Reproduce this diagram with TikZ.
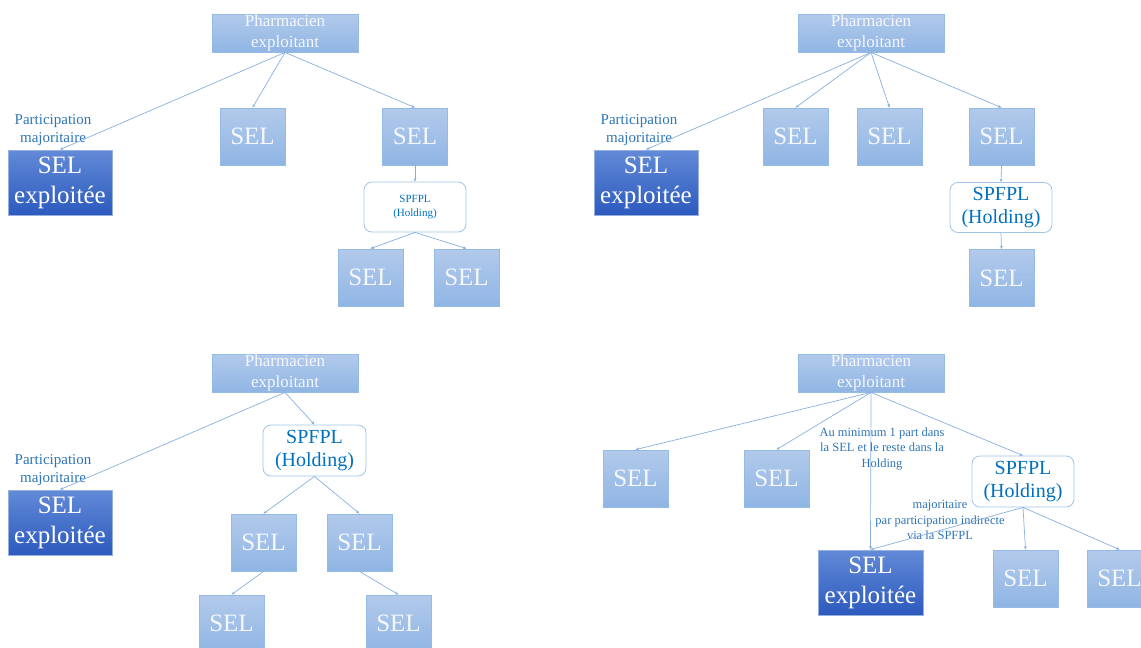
\documentclass[tikz,border=0pt]{standalone}
\usepackage{fontspec}
\setmainfont{Liberation Serif}
\usetikzlibrary{arrows.meta}
\definecolor{seltop}{RGB}{178,202,235}
\definecolor{selbot}{RGB}{144,181,228}
\definecolor{selline}{RGB}{150,186,230}
\definecolor{exptop}{RGB}{98,138,215}
\definecolor{expbot}{RGB}{44,90,190}
\definecolor{expline}{RGB}{150,175,225}
\definecolor{linkcol}{RGB}{135,175,224}
\definecolor{notecol}{RGB}{46,117,182}
\definecolor{holdtext}{RGB}{0,112,192}
\definecolor{holdline}{RGB}{160,196,232}
\definecolor{boxtext}{RGB}{244,247,252}
\tikzset{
  x=1pt, y=-1pt,
  selbox/.style={draw=selline, line width=0.8pt, top color=seltop, bottom color=selbot,
    minimum width=65pt, minimum height=57pt, inner sep=0pt, text=boxtext,
    font=\fontsize{25}{30}\selectfont},
  ownerbox/.style={selbox, minimum width=146pt, minimum height=38pt,
    align=center, font=\fontsize{17}{21}\selectfont},
  expbox/.style={draw=expline, line width=0.8pt, top color=exptop, bottom color=expbot,
    minimum width=104pt, minimum height=65pt, inner sep=0pt, text=white, align=center,
    font=\fontsize{25}{30}\selectfont},
  holdbox/.style={draw=holdline, line width=0.8pt, fill=white, rounded corners=8pt,
    minimum width=102pt, minimum height=50pt, inner sep=0pt, text=holdtext, align=center,
    font=\fontsize{20}{23}\selectfont},
  holdsmall/.style={holdbox, font=\fontsize{11}{14}\selectfont},
  note/.style={text=notecol, align=center, inner sep=0pt, font=\fontsize{15}{18}\selectfont},
  smallnote/.style={note, font=\fontsize{12.5}{15.5}\selectfont},
  link/.style={draw=linkcol, line width=0.7pt, -{Stealth[length=3.5pt,width=3pt]}}
}
\begin{document}
\begin{tikzpicture}
\useasboundingbox (0,0) rectangle (1141,648);

% ---- top left: one SPFPL holding two SEL
\node[ownerbox] (p1) at (285,33) {Pharmacien\\exploitant};
\node[expbox] (e1) at (60,182.5) {SEL\\exploitée};
\node[selbox] (s1a) at (252.5,136.5) {SEL};
\node[selbox] (s1b) at (415,136.5) {SEL};
\node[holdsmall] (h1) at (415,207) {SPFPL\\(Holding)};
\node[selbox] (s1c) at (370.5,277.5) {SEL};
\node[selbox] (s1d) at (466.5,277.5) {SEL};
\node[note] (n1) at (53,130.5) {Participation\\majoritaire};

% ---- top right
\node[ownerbox] (p2) at (871,33) {Pharmacien\\exploitant};
\node[expbox] (e2) at (646,182.5) {SEL\\exploitée};
\node[selbox] (s2a) at (795.5,136.5) {SEL};
\node[selbox] (s2b) at (889.5,136.5) {SEL};
\node[selbox] (s2c) at (1001.5,136.5) {SEL};
\node[holdbox] (h2) at (1001,207.5) {SPFPL\\(Holding)};
\node[selbox] (s2d) at (1001.5,278) {SEL};
\node[note] (n2) at (639,130.5) {Participation\\majoritaire};

% ---- bottom left
\node[ownerbox] (p3) at (285,373) {Pharmacien\\exploitant};
\node[expbox] (e3) at (60,522.5) {SEL\\exploitée};
\node[holdbox, minimum width=103pt, minimum height=51pt] (h3) at (314.5,450.5) {SPFPL\\(Holding)};
\node[selbox] (s3a) at (263.5,542.5) {SEL};
\node[selbox] (s3b) at (359.5,542.5) {SEL};
\node[selbox] (s3c) at (231.5,623.5) {SEL};
\node[selbox] (s3d) at (398.5,623.5) {SEL};
\node[note] (n3) at (53,470.5) {Participation\\majoritaire};

% ---- bottom right
\node[ownerbox] (p4) at (871,373) {Pharmacien\\exploitant};
\node[selbox] (s4a) at (635.5,478.5) {SEL};
\node[selbox] (s4b) at (776.5,478.5) {SEL};
\node[holdbox, minimum height=51pt] (h4) at (1023,481.5) {SPFPL\\(Holding)};
\node[expbox, minimum width=105pt] (e4) at (870.5,582.5) {SEL\\exploitée};
\node[selbox] (s4c) at (1025.5,578.5) {SEL};
\node[selbox] (s4d) at (1119.5,578.5) {SEL};
\node[smallnote] (n4a) at (882,449) {Au minimum 1 part dans\\la SEL et le reste dans la\\Holding};
\node[smallnote] (n4b) at (940,520) {majoritaire\\par participation indirecte\\via la SPFPL};

% ---- connectors
\draw[link] (p1.south) -- (e1.north);
\draw[link] (p1.south) -- (s1a.north);
\draw[link] (p1.south) -- (s1b.north);
\draw[link] (s1b.south) -- (h1.north);
\draw[link] (h1.south) -- (s1c.north);
\draw[link] (h1.south) -- (s1d.north);

\draw[link] (p2.south) -- (e2.north);
\draw[link] (p2.south) -- (s2a.north);
\draw[link] (p2.south) -- (s2b.north);
\draw[link] (p2.south) -- (s2c.north);
\draw[link] (s2c.south) -- (h2.north);
\draw[link] (h2.south) -- (s2d.north);

\draw[link] (p3.south) -- (e3.north);
\draw[link] (p3.south) -- (h3.north);
\draw[link] (h3.south) -- (s3a.north);
\draw[link] (h3.south) -- (s3b.north);
\draw[link] (s3a.south) -- (s3c.north);
\draw[link] (s3b.south) -- (s3d.north);

\draw[link] (p4.south) -- (s4a.north);
\draw[link] (p4.south) -- (s4b.north);
\draw[link] (p4.south) -- (e4.north);
\draw[link] (p4.south) -- (h4.north);
\draw[link] (h4.south) -- (e4.north);
\draw[link] (h4.south) -- (s4c.north);
\draw[link] (h4.south) -- (s4d.north);
\end{tikzpicture}
\end{document}
